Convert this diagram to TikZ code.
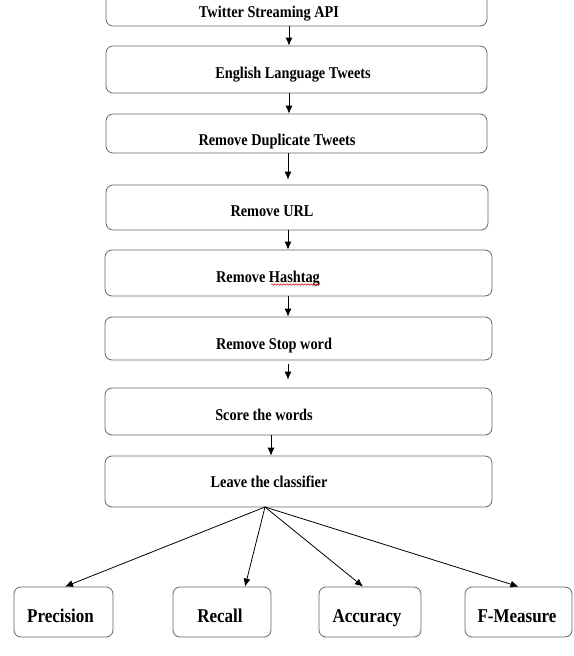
\documentclass[tikz,border=0pt]{standalone}
\usepackage{fontspec}
\setmainfont{Liberation Serif}
\usetikzlibrary{arrows.meta,decorations.pathmorphing}

\newcommand\tallbox[1]{\scalebox{1}[1.15]{#1}}

\tikzset{
  stage/.style={draw=black!60, line width=0.8pt, rounded corners=7pt, inner sep=0pt},
  stagetext/.style={font=\bfseries\fontsize{14.3}{16}\selectfont, inner sep=0pt, anchor=base},
  metrictext/.style={font=\bfseries\fontsize{17}{20}\selectfont, inner sep=0pt, anchor=base},
  flow/.style={-{Latex[length=8pt,width=7pt]}, line width=0.8pt},
  spellmark/.style={red!85!black, line width=0.5pt, decorate,
    decoration={snake, amplitude=0.8pt, segment length=3pt}}
}

\begin{document}
\begin{tikzpicture}[x=1pt, y=-1pt]
    \clip (0,0) rectangle (573,656);
    % pipeline stages: name / centre x / centre y / width / height / text x / baseline y / text
    \foreach \n/\cx/\cy/\w/\h/\tx/\ty/\txt in {
        api/296.5/3/381/46/269/17.5/Twitter Streaming API,
        eng/296.5/69.5/381/47/293/78.3/English Language Tweets,
        dup/296.5/133.5/381/39/277/145/Remove Duplicate Tweets,
        url/297/207.5/382/45/272/216.7/Remove URL,
        hash/298.5/273/387/46/268/282.3/Remove Hashtag,
        stop/298.5/338.5/387/43/274/349.3/Remove Stop word,
        score/298.5/411.5/387/47/264/420/Score the words,
        clf/298.5/481.5/387/51/269/487.3/Leave the classifier}
    {
      \node[stage, minimum width=\w pt, minimum height=\h pt] (\n) at (\cx,\cy) {};
      \node[stagetext] (\n-t) at (\tx,\ty) {\tallbox{\txt}};
    }
    % squiggle under Hashtag
    \draw[spellmark] (271,284.5) -- (320,284.5);
    % the four measures
    \foreach \n/\cx/\w/\tx/\txt in {
        prec/63.5/99/60.5/Precision,
        rec/222/98/220/Recall,
        acc/370/102/367/Accuracy,
        fm/518.5/107/517/F-Measure}
    {
      \node[stage, minimum width=\w pt, minimum height=50pt] (\n) at (\cx,612) {};
      \node[metrictext] (\n-t) at (\tx,622.5) {\tallbox{\txt}};
    }
    % arrows down the pipeline
    \draw[flow] (api.south -| 289,0) -- (eng.north -| 289,0);
    \draw[flow] (eng.south -| 289,0) -- (dup.north -| 289,0);
    \draw[flow, shorten >=5pt] (dup.south -| 288,0) -- (url.north -| 288,0);
    \draw[flow] (url.south -| 288,0) -- (hash.north -| 288,0);
    \draw[flow] (hash.south -| 288,0) -- (stop.north -| 288,0);
    \draw[flow, shorten <=4pt, shorten >=8pt] (stop.south -| 288,0) -- (score.north -| 288,0);
    \draw[flow] (score.south -| 271,0) -- (clf.north -| 271,0);
    % fan out to the measures
    \coordinate (fan) at (265,507);
    \draw[flow] (fan) -- ([xshift=1.5pt]prec.north);
    \draw[flow] (fan) -- ([xshift=23pt]rec.north);
    \draw[flow] (fan) -- ([xshift=-7pt]acc.north);
    \draw[flow] (fan) -- (fm.north);
\end{tikzpicture}
\end{document}
